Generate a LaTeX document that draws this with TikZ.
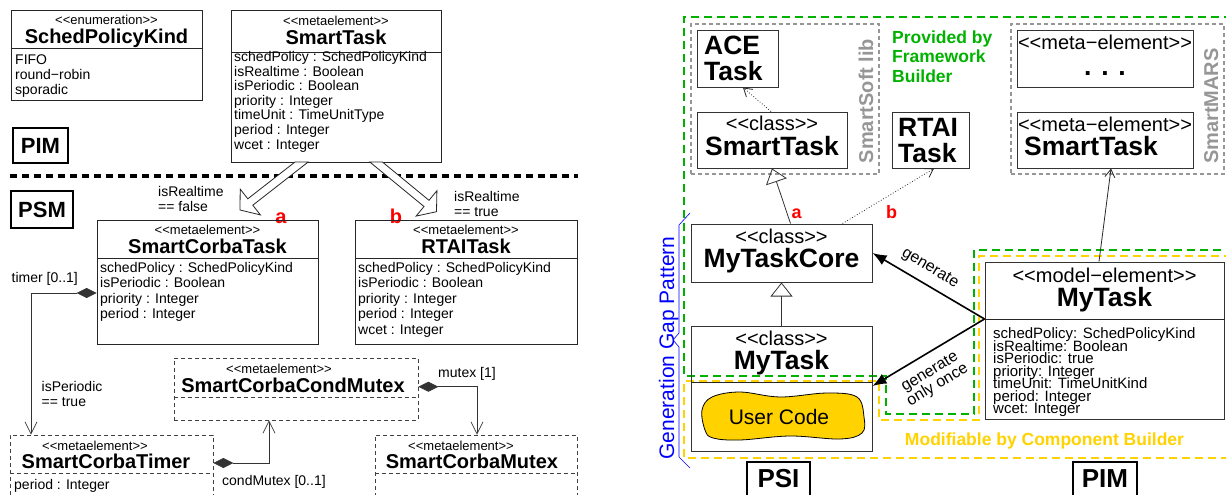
\documentclass[tikz,border=0pt]{standalone}
\usepackage{fontspec}
\setmainfont{Liberation Sans}
\usetikzlibrary{arrows.meta}
\definecolor{fwgreen}{RGB}{0,178,0}
\definecolor{cbyellow}{RGB}{255,210,0}
\definecolor{libgray}{RGB}{150,150,150}
\newcommand{\stype}[1]{<\kern0pt<#1>\kern0pt>}

\begin{document}
\begin{tikzpicture}
[
 x=1pt, y=-1pt,
 inner sep=0pt,
 BOX/.style={rectangle, draw=black!85, line width=0.8pt},
 DBOX/.style={rectangle, draw=black!75, line width=0.8pt, dash pattern=on 4pt off 3pt},
 TAG/.style={rectangle, draw=black, line width=2.5pt, font=\fontsize{22}{24}\selectfont\bfseries},
 DIV/.style={draw=black!85, line width=0.8pt},
 DDIV/.style={draw=black!75, line width=0.8pt, dash pattern=on 4pt off 3pt},
 STEREO/.style={anchor=base, font=\fontsize{13}{14}\selectfont},
 NAME/.style={anchor=base, font=\fontsize{20}{22}\selectfont\bfseries},
 ATTR/.style={anchor=base west, font=\fontsize{14}{15}\selectfont},
 LBL/.style={font=\fontsize{14}{15}\selectfont, align=left},
 REDTAG/.style={anchor=base, text=red, font=\fontsize{20}{22}\selectfont\bfseries},
 HOLLOW/.style={draw=black!85, fill=white, line width=0.8pt},
 COMP/.style={draw=black!80, line width=0.7pt, arrows={Diamond[length=20pt,width=10pt]-Straight Barb[length=12pt,width=12pt]}},
 SEP/.style={line width=4pt, dash pattern=on 7pt off 5pt},
 RBOX/.style={rectangle, draw=black!80, line width=1pt},
 LIB/.style={rectangle, draw=libgray, line width=1.5pt, dash pattern=on 4pt off 3pt},
 RTAG/.style={rectangle, draw=black, line width=2.5pt, font=\fontsize{26}{28}\selectfont\bfseries},
 RSTEREO/.style={anchor=base, font=\fontsize{20}{22}\selectfont},
 RNAME/.style={anchor=base, font=\fontsize{26.5}{28}\selectfont\bfseries},
 RBIG/.style={anchor=base west, font=\fontsize{26.5}{28}\selectfont\bfseries},
 MATTR/.style={anchor=base west, font=\fontsize{15}{16}\selectfont},
 FW/.style={draw=fwgreen, line width=2pt, dash pattern=on 8pt off 5pt},
 CB/.style={draw=cbyellow, line width=2pt, dash pattern=on 8pt off 5pt},
 LIBTXT/.style={rotate=90, anchor=base, text=libgray, font=\fontsize{20}{22}\selectfont\bfseries},
 INHERIT/.style={draw=black!80, line width=0.8pt, -{Triangle[open, length=14pt, width=22pt]}},
 DOTARR/.style={draw=black!85, line width=0.8pt, dotted, -{Straight Barb[length=8pt, width=10pt]}},
 OPENARR/.style={draw=black!85, line width=0.8pt, -{Straight Barb[length=8pt, width=10pt]}},
 GENARR/.style={draw=black, line width=1.6pt, -{Latex[length=14pt, width=11pt]}},
 GLBL/.style={font=\fontsize{16}{15}\selectfont, align=center},
 ]
%
\useasboundingbox (0,0) rectangle (1226,495);
%
% ---------- left: meta model ----------
\node [BOX, minimum width=191pt, minimum height=90pt]  (SPK)  at (106.5,55)  {};
\draw [DIV] (SPK.west |- 0,48) -- (SPK.east |- 0,48);
\node [STEREO] at (106.5,25) {\stype{enumeration}};
\node [NAME]   at (106.5,44) {SchedPolicyKind};
\foreach \txt [count=\i] in {FIFO, round−robin, sporadic}
   { \node [ATTR] at (15, 50.2+14.8*\i) {\txt}; }
%
\node [BOX, minimum width=210pt, minimum height=152pt] (ST)   at (336,86)    {};
\draw [DIV] (ST.west |- 0,52) -- (ST.east |- 0,52);
\node [STEREO] at (336,25.5) {\stype{metaelement}};
\node [NAME]   at (336,44.5) {SmartTask};
\foreach \txt [count=\i] in {schedPolicy : SchedPolicyKind, isRealtime : Boolean, isPeriodic : Boolean, priority : Integer, timeUnit : TimeUnitType, period : Integer, wcet : Integer}
   { \node [ATTR] at (234, 46.9+14.6*\i) {\txt}; }
%
\node [TAG, minimum width=55pt, minimum height=35pt]  (PIML) at (40.5,145.5) {PIM};
\draw [SEP] (10,176) -- (578,176);
\node [TAG, minimum width=62pt, minimum height=37pt]  (PSML) at (42,209.5)   {PSM};
%
\draw [HOLLOW] (295,162) -- (247.8,198.8) -- (240.2,189.1) -- (240,210) -- (260.4,214.9) -- (252.8,205.2) -- (308.2,162) -- cycle;
\draw [HOLLOW] (369.8,162) -- (424,206.5) -- (416.1,216.1) -- (436.5,211.7) -- (436.9,190.7) -- (429,200.3) -- (382.4,162) -- cycle;
\node [LBL, anchor=north west] at (158,186.3) {isRealtime\\== false};
\node [LBL, anchor=north west] at (454,191.5) {isRealtime\\== true};
\node [REDTAG] at (281,223) {a};
\node [REDTAG] at (396,223) {b};
%
\node [BOX, minimum width=221pt, minimum height=124pt] (SCT)  at (207.5,282) {};
\draw [DIV] (SCT.west |- 0,258) -- (SCT.east |- 0,258);
\node [STEREO] at (207.5,234) {\stype{metaelement}};
\node [NAME]   at (207.5,253) {SmartCorbaTask};
\foreach \txt [count=\i] in {schedPolicy : SchedPolicyKind, isPeriodic : Boolean, priority : Integer, period : Integer}
   { \node [ATTR] at (100, 256.5+15.5*\i) {\txt}; }
%
\node [BOX, minimum width=222pt, minimum height=124pt] (RTT)  at (466,282)   {};
\draw [DIV] (RTT.west |- 0,258) -- (RTT.east |- 0,258);
\node [STEREO] at (466,234) {\stype{metaelement}};
\node [NAME]   at (466,253) {RTAITask};
\foreach \txt [count=\i] in {schedPolicy : SchedPolicyKind, isPeriodic : Boolean, priority : Integer, period : Integer, wcet : Integer}
   { \node [ATTR] at (358, 256.5+15.5*\i) {\txt}; }
%
\node [DBOX, minimum width=244pt, minimum height=62pt] (SCCM) at (296,389)   {};
\draw [DDIV] (SCCM.west |- 0,397) -- (SCCM.east |- 0,397);
\node [STEREO] at (279,373) {\stype{metaelement}};
\node [NAME]   at (293,392) {SmartCorbaCondMutex};
%
\node [DBOX, minimum width=203pt, minimum height=70pt] (SCTI) at (111.5,470) {};
\draw [DDIV] (SCTI.west |- 0,473) -- (SCTI.east |- 0,473);
\node [STEREO] at (95,450)  {\stype{metaelement}};
\node [NAME]   at (106,468) {SmartCorbaTimer};
\node [ATTR]   at (14,489)  {period : Integer};
%
\node [DBOX, minimum width=202pt, minimum height=70pt] (SCM)  at (476,470)   {};
\draw [DDIV] (SCM.west |- 0,473) -- (SCM.east |- 0,473);
\node [STEREO] at (461,450) {\stype{metaelement}};
\node [NAME]   at (472,468) {SmartCorbaMutex};
%
\draw [COMP] ([yshift=-11pt]SCT.west) -| ([xshift=-80.5pt]SCTI.north);
\draw [COMP] ([yshift=2.3pt]SCCM.east) -| ([xshift=1pt]SCM.north);
\draw [COMP] ([yshift=7pt]SCTI.east)  -| ([xshift=-27pt]SCCM.south);
\node [LBL, anchor=base west]  at (11.5,282)   {timer [0..1]};
\node [LBL, anchor=north west] at (41.5,381.5) {isPeriodic\\== true};
\node [LBL, anchor=base west]  at (438,377)    {mutex [1]};
\node [LBL, anchor=base west]  at (222,485)    {condMutex [0..1]};
%
% ---------- right: generation gap ----------
\draw [FW] (1232,17) -- (684,17) -- (684,376) -- (886,376) -- (886,414) -- (974,414) -- (974,250) -- (1232,250);
\draw [CB] (1232,256) -- (979,256) -- (979,420) -- (879,420) -- (879,381) -- (684,381) -- (684,458) -- (1232,458);
\node [anchor=north west, align=left, text=fwgreen, font=\fontsize{17.5}{19.5}\selectfont\bfseries] at (892,30.5) {Provided by\\Framework\\Builder};
\node [anchor=base, text=cbyellow, font=\fontsize{17.5}{19}\selectfont\bfseries] at (1044.5,445) {Modifiable by Component Builder};
%
\node [LIB, minimum width=188pt, minimum height=150pt] (SSL)   at (785,99)    {};
\node [LIBTXT] at (873,101) {SmartSoft lib};
\node [LIB, minimum width=213pt, minimum height=150pt] (SMARS) at (1117.5,99) {};
\node [LIBTXT] at (1218,106) {SmartMARS};
%
\node [RBOX, minimum width=81pt, minimum height=56pt]  (ACE)  at (737.5,59)  {};
\node [RBIG] at (704,55) {ACE};
\node [RBIG] at (704,81) {Task};
\node [RBOX, minimum width=150pt, minimum height=56pt] (SST)  at (772,140)   {};
\node [RSTEREO] at (772,130.7) {\stype{class}};
\node [RNAME]   at (772,155)   {SmartTask};
\node [RBOX, minimum width=77pt, minimum height=56pt]  (RTB)  at (930.5,140) {};
\node [RBIG] at (898,136.7) {RTAI};
\node [RBIG] at (898,162.7) {Task};
%
\node [RBOX, minimum width=176pt, minimum height=56pt] (MDOT) at (1105,59)   {};
\node [RSTEREO] at (1105,50) {\stype{meta−element}};
\node [RNAME]   at (1105,75) {. . .};
\node [RBOX, minimum width=176pt, minimum height=56pt] (SMT)  at (1105,140)  {};
\node [RSTEREO] at (1105,131.7) {\stype{meta−element}};
\node [RNAME, anchor=base west] at (1024,155.7) {SmartTask};
%
\node [RBOX, minimum width=181pt, minimum height=58pt]  (MTC) at (781.5,253)   {};
\node [RSTEREO] at (781.5,243.3) {\stype{class}};
\node [RNAME]   at (781.5,267.7) {MyTaskCore};
\node [RBOX, minimum width=181pt, minimum height=125pt] (MT)  at (781.5,388.5) {};
\draw [DIV] (MT.west |- 0,382) -- (MT.east |- 0,382);
\node [RSTEREO] at (781.5,345)   {\stype{class}};
\node [RNAME]   at (781.5,369.3) {MyTask};
\draw [fill=cbyellow, draw=black, line width=0.8pt] plot [smooth cycle, tension=0.6] coordinates
   {(712,397) (740,392) (780,397) (827,393) (857,397) (864,417) (862,433) (840,439) (790,436) (740,440) (713,438) (705,430) (702,410)};
\node [anchor=base, font=\fontsize{21}{22}\selectfont] (UC) at (779,424) {User Code};
%
\node [RBOX, minimum width=239pt, minimum height=157pt] (MTM) at (1104.5,340.5) {};
\draw [DIV] (MTM.west |- 0,319) -- (MTM.east |- 0,319);
\node [RSTEREO] at (1104.5,282.7) {\stype{model−element}};
\node [RNAME]   at (1104.5,306)   {MyTask};
\foreach \txt [count=\i] in {schedPolicy: SchedPolicyKind, isRealtime: Boolean, isPeriodic: true, priority: Integer, timeUnit: TimeUnitKind, period: Integer, wcet: Integer}
   { \node [MATTR] at (993, 326+12.5*\i) {\txt}; }
%
\node [RTAG, minimum width=63pt, minimum height=34pt] (PSI)  at (778.5,479) {PSI};
\node [RTAG, minimum width=64pt, minimum height=34pt] (PIMR) at (1105,479)  {PIM};
%
\draw [DOTARR]  ([xshift=-1pt]SST.north) -- ([xshift=5.5pt]ACE.south);
\draw [INHERIT] ([xshift=9pt]MTC.north)  -- (SST.south);
\draw [DOTARR]  ([xshift=61pt]MTC.north) -- ([xshift=3.5pt]RTB.south);
\draw [INHERIT] (MT.north) -- (MTC.south);
\draw [OPENARR] ([xshift=-5.5pt]MTM.north) -- ([xshift=6pt]SMT.south);
\node [REDTAG, font=\fontsize{18}{20}\selectfont\bfseries] at (796.7,218) {a};
\node [REDTAG, font=\fontsize{18}{20}\selectfont\bfseries] at (891.5,218) {b};
%
\coordinate (GEN) at (MTM.west |- 0,319);
\draw [GENARR] (GEN) -- (MTC.east);
\draw [GENARR] (GEN) -- ([yshift=2.5pt]MT.east);
\node [GLBL, rotate=-31] at (930,268.5) {generate};
\node [GLBL, rotate=31]  at (934,379) {generate\\only once};
%
\draw [blue, line width=0.6pt] (690,213) -- (679,225) -- (679,333) -- (673,340) -- (679,347) -- (679,457) -- (690,468);
\node [rotate=90, anchor=base, text=blue, font=\fontsize{21}{22}\selectfont] at (674,348) {Generation Gap Pattern};
%
\end{tikzpicture}
\end{document}
